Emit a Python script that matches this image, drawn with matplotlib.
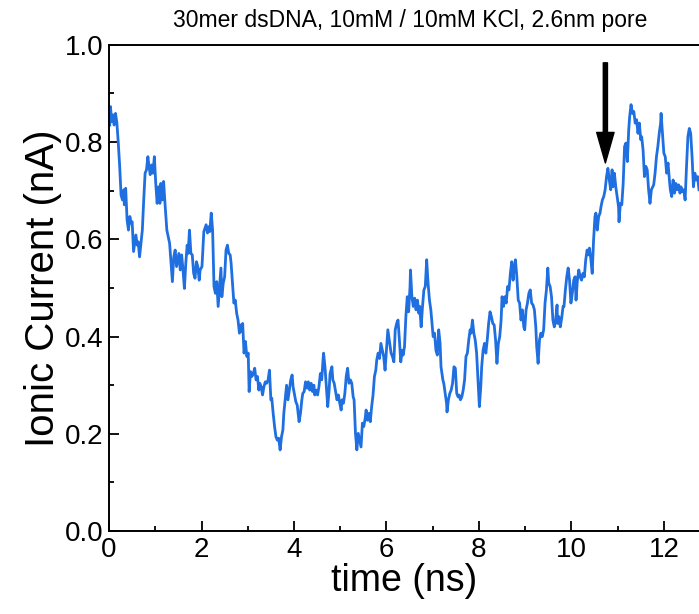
import matplotlib
matplotlib.use("Agg")
import matplotlib.pyplot as plt
from matplotlib.ticker import MultipleLocator

# trace (time in ns, current in nA)
time_ns = [
    0.015, 0.03, 0.06, 0.09, 0.11, 0.14, 0.17, 0.20, 0.23, 0.26, 0.29, 0.32, 0.33, 0.36, 0.39,
    0.42, 0.45, 0.48, 0.50, 0.53, 0.58, 0.61, 0.63, 0.66, 0.69, 0.72, 0.75, 0.78, 0.81, 0.84,
    0.86, 0.89, 0.92, 0.95, 0.98, 1.01, 1.04, 1.07, 1.10, 1.12, 1.15, 1.18, 1.21, 1.25, 1.28,
    1.31, 1.34, 1.37, 1.40, 1.43, 1.46, 1.49, 1.51, 1.54, 1.57, 1.60, 1.63, 1.66, 1.69, 1.71,
    1.74, 1.77, 1.80, 1.83, 1.86, 1.89, 1.92, 1.95, 1.97,
    2.01, 2.04, 2.05, 2.10, 2.13, 2.16, 2.18, 2.21, 2.24, 2.27, 2.30, 2.33, 2.36, 2.39, 2.42,
    2.44, 2.47, 2.50, 2.53, 2.56, 2.59, 2.62, 2.64, 2.67, 2.70, 2.73, 2.76, 2.79, 2.82, 2.85,
    2.88, 2.89, 2.92, 2.95, 2.98, 3.01, 3.03, 3.06, 3.09, 3.12, 3.15, 3.18, 3.21, 3.24, 3.26,
    3.29, 3.32, 3.35, 3.38, 3.41, 3.44, 3.47, 3.50, 3.52, 3.55, 3.58, 3.61, 3.64, 3.67, 3.70,
    3.73, 3.76, 3.78, 3.81, 3.84, 3.87, 3.90, 3.93, 3.96, 3.98, 4.02, 4.04, 4.07, 4.10,
    4.11, 4.14, 4.17, 4.19, 4.22, 4.25, 4.28, 4.31, 4.34, 4.37, 4.40, 4.43, 4.45, 4.48, 4.51,
    4.54, 4.57, 4.60, 4.63, 4.64, 4.67, 4.70, 4.73, 4.76, 4.78, 4.82, 4.84, 4.87, 4.90, 4.93,
    4.96, 4.99, 5.02, 5.04, 5.07, 5.10, 5.13, 5.16, 5.19, 5.22, 5.25, 5.28, 5.30, 5.33, 5.36,
    5.39, 5.42, 5.45, 5.48, 5.51, 5.54, 5.56, 5.59, 5.62, 5.65, 5.68, 5.71, 5.74, 5.77, 5.79,
    5.82, 5.85, 5.88, 5.91, 5.94, 5.97, 6.00, 6.03, 6.05,
    6.10, 6.13, 6.16, 6.19, 6.22, 6.25, 6.28, 6.31, 6.34, 6.36, 6.39, 6.42, 6.45, 6.48, 6.51,
    6.52, 6.55, 6.58, 6.61, 6.64, 6.67, 6.70, 6.72, 6.75, 6.78, 6.81, 6.84, 6.87, 6.90, 6.93,
    6.96, 6.98, 7.01, 7.04, 7.07, 7.10, 7.13, 7.16, 7.18, 7.22, 7.24, 7.27, 7.30, 7.31, 7.34,
    7.37, 7.40, 7.43, 7.46, 7.49, 7.52, 7.55, 7.57, 7.60, 7.63, 7.66, 7.69, 7.72, 7.75, 7.78,
    7.81, 7.83, 7.86, 7.89, 7.92, 7.95, 7.98, 8.01, 8.04, 8.06, 8.09, 8.12, 8.15, 8.18, 8.21,
    8.24, 8.27, 8.30, 8.33, 8.36, 8.39, 8.42, 8.45, 8.48, 8.50, 8.53, 8.56, 8.59, 8.62, 8.65,
    8.68, 8.71, 8.74, 8.76, 8.79, 8.82, 8.85, 8.88, 8.91, 8.94, 8.97, 8.99, 9.02, 9.05, 9.08,
    9.11, 9.14, 9.17, 9.20, 9.23, 9.25, 9.28, 9.31, 9.34, 9.37, 9.40, 9.43, 9.46, 9.49, 9.51,
    9.54, 9.57, 9.60, 9.63, 9.66, 9.69, 9.70, 9.73, 9.76, 9.79, 9.82, 9.84, 9.87, 9.90, 9.93,
    9.96, 9.99, 10.02, 10.05, 10.08, 10.10, 10.13, 10.16, 10.19, 10.22, 10.25, 10.28, 10.31,
    10.34, 10.36, 10.39, 10.42, 10.45, 10.48,
    10.51, 10.53, 10.56, 10.59, 10.62, 10.64, 10.67, 10.70, 10.73, 10.76, 10.79, 10.82, 10.85,
    10.88, 10.90, 10.93, 10.96, 10.99, 11.02, 11.03, 11.06, 11.09, 11.12, 11.15, 11.18, 11.21,
    11.24, 11.26, 11.29, 11.32, 11.35, 11.38, 11.41, 11.44, 11.47, 11.50, 11.52, 11.55, 11.58,
    11.61, 11.64, 11.67, 11.70, 11.73, 11.76, 11.78, 11.81, 11.84, 11.87, 11.90, 11.93, 11.94,
    11.97, 12.00, 12.03, 12.06, 12.09, 12.12, 12.14, 12.17, 12.20, 12.23, 12.26, 12.29, 12.32,
    12.35, 12.37, 12.40, 12.43, 12.46, 12.49, 12.52, 12.55, 12.58, 12.61, 12.64, 12.67, 12.70,
    12.73, 12.76,
]

current_nA = [
    0.835, 0.873, 0.842, 0.856, 0.835, 0.859, 0.839, 0.798, 0.750, 0.691, 0.681, 0.702, 0.671, 0.705, 0.640,
    0.619, 0.647, 0.633, 0.636, 0.575, 0.609, 0.588, 0.595, 0.564, 0.592, 0.619, 0.681, 0.736, 0.743, 0.770,
    0.753, 0.733, 0.753, 0.736, 0.770, 0.715, 0.674, 0.708, 0.674, 0.715, 0.681, 0.719, 0.674, 0.619, 0.606,
    0.592, 0.551, 0.513, 0.564, 0.578, 0.544, 0.561, 0.571, 0.537, 0.568, 0.537, 0.499, 0.551, 0.588, 0.571,
    0.619, 0.571, 0.568, 0.530, 0.520, 0.554, 0.544, 0.516, 0.537,
    0.544, 0.599, 0.616, 0.630, 0.613, 0.626, 0.616, 0.654, 0.619, 0.503, 0.489, 0.513, 0.462, 0.503, 0.541,
    0.482, 0.510, 0.523, 0.578, 0.588, 0.571, 0.568, 0.551, 0.510, 0.469, 0.475, 0.448, 0.434, 0.407, 0.424,
    0.410, 0.427, 0.366, 0.390, 0.359, 0.366, 0.287, 0.328, 0.318, 0.324, 0.335, 0.311, 0.318, 0.290, 0.304,
    0.297, 0.280, 0.297, 0.307, 0.304, 0.311, 0.331, 0.270, 0.273, 0.242, 0.215, 0.194, 0.187, 0.191, 0.167,
    0.194, 0.208, 0.242, 0.270, 0.300, 0.270, 0.290, 0.311, 0.321, 0.297, 0.276, 0.266, 0.259, 0.232,
    0.225, 0.242, 0.270, 0.283, 0.287, 0.307, 0.294, 0.307, 0.290, 0.304, 0.287, 0.300, 0.280, 0.290, 0.280,
    0.297, 0.324, 0.311, 0.355, 0.366, 0.338, 0.297, 0.256, 0.290, 0.324, 0.338, 0.311, 0.304, 0.287, 0.270,
    0.280, 0.263, 0.249, 0.270, 0.263, 0.283, 0.318, 0.335, 0.304, 0.311, 0.304, 0.276, 0.270, 0.201, 0.167,
    0.201, 0.187, 0.173, 0.222, 0.215, 0.232, 0.249, 0.228, 0.242, 0.225, 0.256, 0.280, 0.318, 0.331, 0.352,
    0.366, 0.355, 0.386, 0.372, 0.359, 0.331, 0.372, 0.414, 0.400,
    0.366, 0.359, 0.348, 0.414, 0.427, 0.434, 0.393, 0.348, 0.372, 0.362, 0.379, 0.441, 0.482, 0.451, 0.503,
    0.537, 0.482, 0.462, 0.479, 0.455, 0.475, 0.448, 0.462, 0.420, 0.462, 0.496, 0.503, 0.558, 0.510, 0.475,
    0.455, 0.434, 0.400, 0.407, 0.372, 0.362, 0.414, 0.386, 0.338, 0.311, 0.304, 0.283, 0.263, 0.245, 0.270,
    0.283, 0.290, 0.304, 0.338, 0.335, 0.283, 0.276, 0.280, 0.270, 0.276, 0.290, 0.311, 0.359, 0.366, 0.393,
    0.414, 0.407, 0.434, 0.407, 0.393, 0.366, 0.311, 0.256, 0.297, 0.338, 0.372, 0.386, 0.366, 0.393, 0.427,
    0.451, 0.441, 0.427, 0.424, 0.393, 0.345, 0.386, 0.400, 0.434, 0.482, 0.462, 0.482, 0.469, 0.503, 0.496,
    0.530, 0.554, 0.516, 0.541, 0.558, 0.523, 0.475, 0.469, 0.434, 0.455, 0.420, 0.414, 0.455, 0.469, 0.489,
    0.496, 0.469, 0.465, 0.455, 0.420, 0.379, 0.345, 0.393, 0.407, 0.400, 0.414, 0.469, 0.496, 0.541, 0.510,
    0.503, 0.482, 0.434, 0.420, 0.434, 0.465, 0.427, 0.441, 0.420, 0.438, 0.462, 0.462, 0.496, 0.523, 0.541,
    0.516, 0.469, 0.489, 0.516, 0.523, 0.475, 0.516, 0.537, 0.523, 0.516, 0.530, 0.523, 0.558,
    0.578, 0.568, 0.582, 0.560, 0.530, 0.599,
    0.647, 0.654, 0.619, 0.647, 0.654, 0.667, 0.681, 0.688, 0.702, 0.729, 0.746, 0.722, 0.702,
    0.743, 0.708, 0.736, 0.708, 0.688, 0.667, 0.636, 0.674, 0.671, 0.715, 0.791, 0.798, 0.760,
    0.825, 0.852, 0.877, 0.859, 0.863, 0.839, 0.846, 0.818, 0.839, 0.805, 0.811, 0.784, 0.729,
    0.750, 0.743, 0.702, 0.674, 0.702, 0.708, 0.712, 0.736, 0.770, 0.791, 0.818, 0.839, 0.859,
    0.818, 0.777, 0.770, 0.736, 0.757, 0.722, 0.702, 0.688, 0.722, 0.695, 0.715, 0.702, 0.712,
    0.695, 0.708, 0.698, 0.702, 0.681, 0.750, 0.811, 0.828, 0.818, 0.770, 0.708, 0.736, 0.722,
    0.729, 0.702,
]

# arrow marking the event
arrow_time = 10.735
arrow_top = 0.963
arrow_tip = 0.757

title = "30mer dsDNA, 10mM / 10mM KCl, 2.6nm pore"

plt.rcParams["font.family"] = ["Liberation Sans", "DejaVu Sans"]

fig = plt.figure(figsize=(6.99, 6.14), dpi=100)
ax = fig.add_axes([0.156, 0.135, 0.844, 0.792])

ax.plot(time_ns, current_nA, color="#1f6fe0", linewidth=2.0)

ax.annotate("", xy=(arrow_time, arrow_tip), xytext=(arrow_time, arrow_top),
            arrowprops=dict(arrowstyle="simple,head_length=2.2,head_width=1.25,tail_width=0.3",
                            color="black", mutation_scale=10, shrinkA=0, shrinkB=0))

ax.set_xlim(0, 12.76)
ax.set_ylim(0, 1.0)
ax.xaxis.set_major_locator(MultipleLocator(2))
ax.xaxis.set_minor_locator(MultipleLocator(1))
ax.yaxis.set_major_locator(MultipleLocator(0.2))
ax.yaxis.set_minor_locator(MultipleLocator(0.1))
ax.yaxis.set_major_formatter(plt.FormatStrFormatter("%.1f"))

ax.tick_params(which="both", direction="in", width=1.3, labelsize=20, top=False, right=False)
ax.tick_params(which="major", length=7, pad=4)
ax.tick_params(which="minor", length=3.5)
for side in ["left", "bottom", "top"]:
    ax.spines[side].set_linewidth(1.4)
ax.spines["right"].set_visible(False)

ax.set_xlabel("time (ns)", fontsize=27, labelpad=0)
ax.set_ylabel("Ionic Current (nA)", fontsize=29, labelpad=2)
fig.text(410 / 699, 1 - 20 / 614, title, ha="center", va="center", fontsize=16.5)

fig.savefig("out.png", dpi=100)
plt.close(fig)
